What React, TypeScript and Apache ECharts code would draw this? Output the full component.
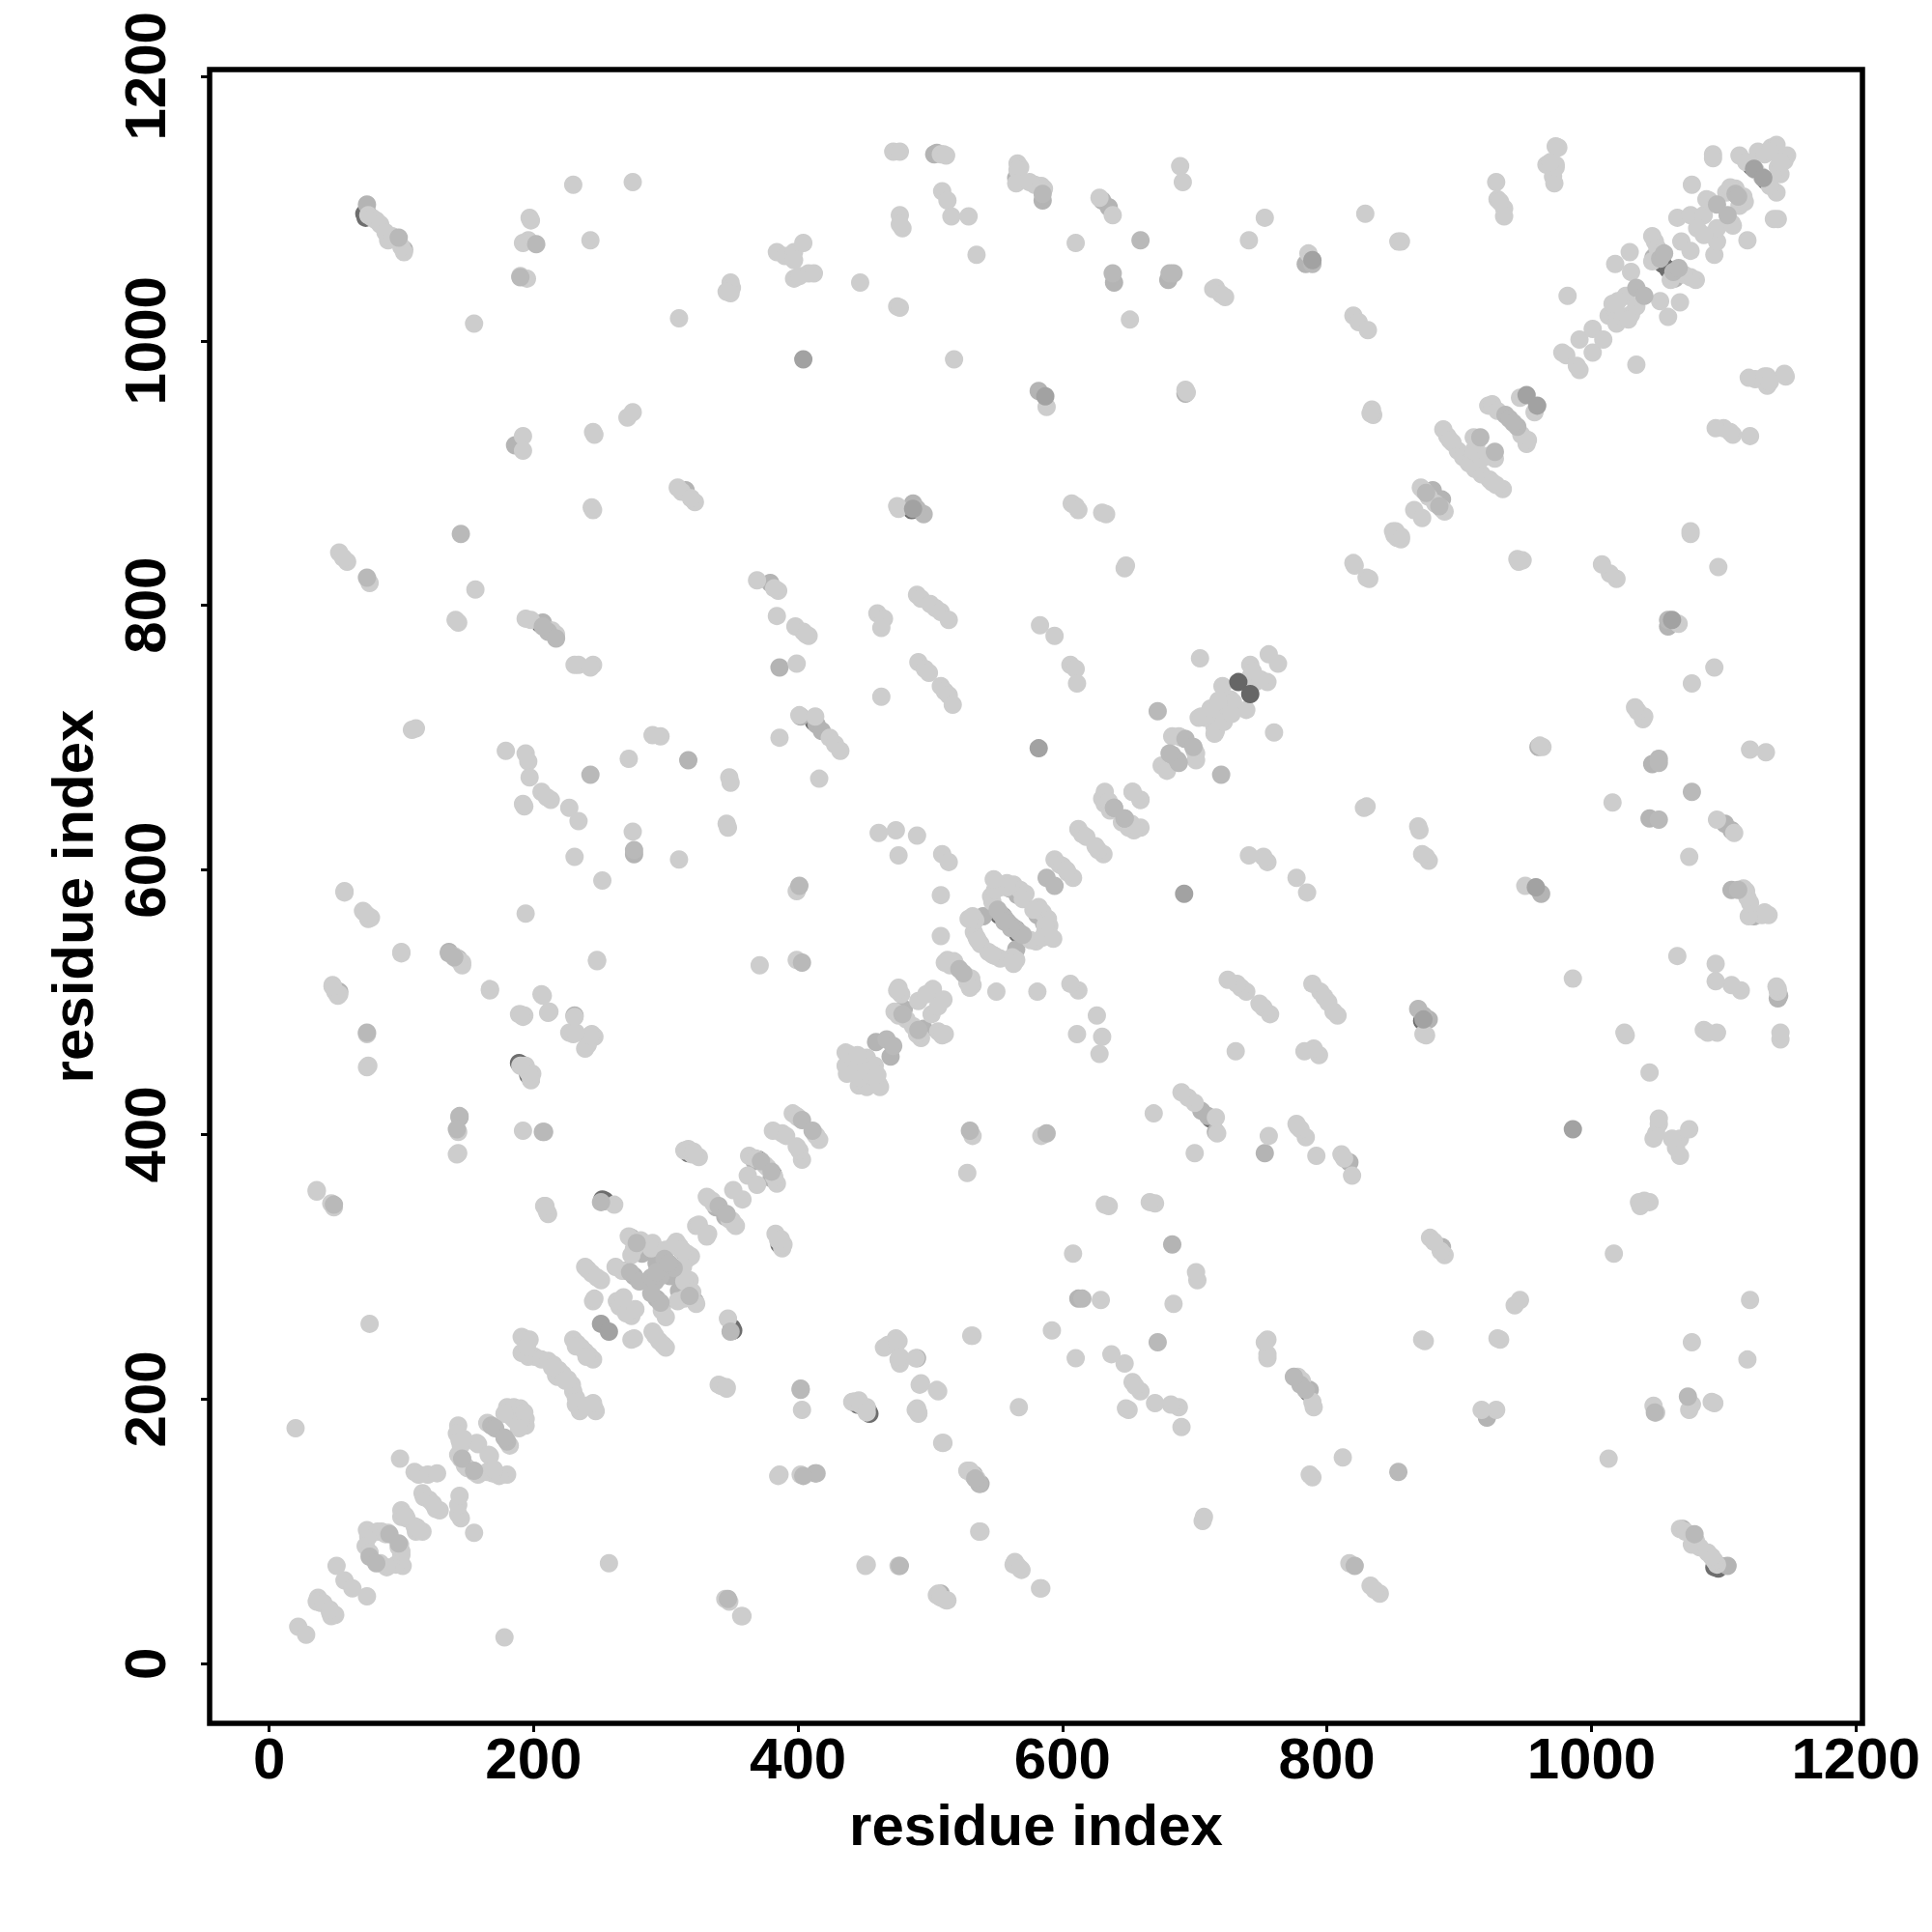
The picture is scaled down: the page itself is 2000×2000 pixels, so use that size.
import React, { useEffect, useRef } from "react";
import * as echarts from "echarts";

const tickValues = [0, 200, 400, 600, 800, 1000, 1200];
const axisTitle = "residue index";

const contactsFar = [
[75,1095],[78,1093],[81,1091],[84,1088],[88,1082],[90,1076],[93,1079],[102,1067],[100,1071],
[197,1093],[198,1091],[196,1076],[192,1074],[190,1049],[195,1047],[230,1118],[275,1120],[243,1076],[155,1013],[310,1017],
[349,1044],[350,1040],[349,1036],[346,1037],[384,1067],[390,1064],[397,1067],[397,1061],[404,1074],[397,1047],[401,1049],[408,1051],[412,1051],
[447,1044],[477,1095],[479,1085],[477,1088],[475,1026],[477,1025],[472,1143],[477,1143],[508,1141],[510,1141],[512,1140],
[509,1113],[513,1106],[516,1094],[529,1094],[535,1065],[518,986],[566,1134],[568,1131],[566,1129],[565,1119],[575,1120],[579,1118],[584,1117],[586,1115],
[610,1074],[628,1108],[638,1095],[651,1016],[689,1132],[691,1120],[714,1039],[716,1040],[720,1035],[723,1033],[741,1076],[753,1093],
[786,1066],[829,1096],[854,1075],[856,1075],[820,1019],[824,1014],[831,1008],[928,1120],[929,1107],[934,1100],[934,1094],[931,1105],
[973,1147],[966,1133],[970,1132],[973,1133],[971,1124],[982,1034],
[192,928],[192,917],[245,931],[246,929],[271,942],[275,946],[588,950],[693,963],[694,961],[834,948],[835,944],[833,945],
[244,874],[245,872],[309,889],[312,886],[322,878],[319,881],[475,875],[476,873],[607,877],[610,875],[612,872],[633,869],[630,870],[851,853],[852,856],[647,828],[648,830],
[53,840],[59,833],[56,836],[76,817],[156,812],[141,789],[143,787],[369,819],[385,811],[382,813],[384,792],[194,790],[198,789],[217,778],[214,781],
[231,755],[234,755],[245,755],[243,753],[398,784],[404,780],[408,777],[406,778],[399,756],[460,794],[465,790],[463,783],[490,808],[493,805],[500,801],[504,798],[508,795],[514,789],
[583,785],[594,777],[606,755],[610,752],[611,741],[463,731],[491,757],[496,752],[499,749],[508,739],[511,735],[514,732],[517,725],[401,717],[413,716],[424,700],[428,695],[432,690],
[386,700],[111,707],[108,706],[290,702],[296,701],[272,684],[179,690],[194,688],[196,682],[197,670],[192,650],[193,648],[206,659],[213,653],[210,655],
[348,670],[349,666],[416,669],[346,635],[347,632],[227,647],[234,637],[231,610],[275,629],[310,608],[252,592],[461,628],[474,630],[490,626],[476,611],[509,612],[514,606],
[399,584],[508,581],[57,584],[71,569],[77,564],[74,566],[194,567],[508,550],[100,538],[399,532],[371,528],[248,532],[146,530],[140,535],
[48,513],[53,506],[167,510],[206,506],[212,493],[189,491],[193,490],[227,477],[230,476],[244,476],[246,474],[241,468],[75,452],[194,452],[199,446],[198,441],
[143,402],[143,386],[192,403],[36,358],[208,346],[211,340],[261,347],
[76,257],[20,178],
[345,49],[348,47],[357,36],[451,74],[476,74],[447,196],[452,190],[465,239],[475,243],[477,232],[489,231],[492,211],[489,192],[491,190],[505,207],[509,167],
[528,146],[532,143],[537,100],[505,52],[508,50],[512,48],[563,75],[568,72],[583,57],[342,210],[346,209],[385,142],[531,248],
];

const contactsNear = [
[22,28],[37,50],[38,48],[39,46],[36,47],[41,46],[51,74],[57,63],[74,101],[75,96],[73,89],[76,84],[82,100],[85,100],[88,98],[90,99],[100,111],[101,113],[100,116],[104,110],[103,112],
[99,155],[110,145],[113,143],[120,143],[127,144],[116,129],[117,126],[121,124],[143,180],[142,174],[144,169],[145,165],[143,158],[148,150],[145,155],[157,167],[158,166],[147,170],
[165,182],[180,194],[185,194],[188,192],[182,190],[186,189],[184,186],[190,193],[178,189],
[191,247],[193,246],[197,245],[191,235],[196,232],[201,232],[206,230],[211,229],[215,226],[217,218],[219,222],[195,240],[214,224],[230,245],[233,242],[236,239],[232,240],
[239,300],[244,295],[251,290],[245,274],[246,276],[263,274],[265,270],[268,277],[267,297],[241,298],[248,292],
[272,323],[276,314],[274,309],[290,318],[289,314],[307,317],[310,316],[316,306],[319,308],[313,312],[281,320],[262,300],[300,313],
[314,388],[320,385],[325,383],[317,389],[321,387],[331,353],[335,350],[348,336],[352,332],[323,331],[325,332],[351,358],[362,369],[363,384],[368,382],[375,377],
[381,403],[388,401],[391,399],[396,416],[400,413],[399,414],[436,462],[441,458],[452,458],[437,446],[440,450],[436,452],[445,455],[438,461],[443,447],[448,452],[445,460],
[473,493],[476,490],[482,487],[476,511],[478,506],[475,509],[491,501],[502,510],[497,506],[513,532],[515,528],[518,531],[520,527],[511,530],
[532,565],[534,562],[533,553],[535,549],[538,544],[546,580],[551,590],[553,587],[558,590],[563,589],[568,585],[572,582],[570,578],[547,576],[558,587],[549,585],[536,547],[529,563],[548,593],
[594,608],[598,604],[600,603],[612,631],[615,627],[618,625],[632,659],[630,654],[632,650],[636,645],[635,652],[653,659],[659,653],[683,701],[690,700],[701,688],[675,679],
[703,715],[708,715],[715,720],[720,720],[721,739],[727,729],[716,705],[712,722],[718,728],[704,760],[742,755],[742,746],[756,763],[744,750],
[821,830],[820,832],[850,856],[866,872],[871,889],[877,882],[873,887],[888,933],[891,928],[895,923],[899,917],[903,912],[907,908],[893,925],[911,927],[911,917],[913,922],[922,951],[925,952],[929,947],[946,957],
[981,989],[978,991],[991,1001],[1001,1009],[1013,1019],[1018,1024],[1026,1034],[1020,1030],[1016,1028],[1018,1058],[1029,1067],[1030,1052],[1046,1079],[1048,1075],[1050,1070],[1046,1060],[1052,1066],[1068,1075],
[1065,1093],[1075,1095],[1085,1095],[1080,1085],[1076,1118],[1087,1107],[1089,1106],[1102,1112],[1109,1115],[1105,1116],[1092,1141],[1092,1138],[1112,1140],[1117,1135],[1129,1124],[1126,1143],[1131,1141],[1136,1146],[1140,1148],[1146,1139],[1135,1143],
[972,1119],[973,1131],[975,1146],[969,1135],
];

const contactsMidBehind = [
[74,1103],[503,1141],[505,1142],[565,1123],[585,1106],[630,1106],[635,1101],[639,1044],[680,1046],[693,960],[582,962],[784,1058],
[186,921],[487,877],[315,887],[379,817],[207,787],[402,716],[414,710],[418,705],[386,753],[317,683],[276,612],[136,538],[143,533],[231,490],[53,508],[144,413],[102,1069],
[274,322],[282,310],[298,312],[293,303],[270,297],[276,293],[290,290],[345,338],[367,380],[459,470],[480,495],[540,565],[566,581],[560,586],[880,887],[1047,1063],
];

const contactsMidFront = [
[789,1058],[98,1078],[202,1073],[190,1048],[638,1051],[681,1051],[684,1051],[659,1076],[145,854],[243,672],[276,615],[401,588],[403,530],[74,477],[208,402],[144,414],[49,347],[402,207],[404,142],
[76,81],[91,98],[146,155],[168,180],[171,178],[278,318],[299,306],[273,296],[280,289],[289,292],[296,293],[303,302],[340,346],[372,380],[403,411],[467,472],[479,491],[522,525],[588,594],[639,647],[647,639],[683,687],[688,681],[672,720],[875,885],[916,927],[935,944],[938,941],[1034,1040],[1052,1062],[1095,1103],[537,136],[780,211],[784,207],[775,217],[534,140],[251,349],[585,1111],[1109,1111],[495,869],[490,873],[74,821],[693,699],[1055,1066],
[553,567],[556,564],[559,560],[551,570],[561,556],
];

const contactsDark = [
[404,986],[789,1061],[251,257],[951,959],[1123,1130],[487,873],[587,958],[582,692],
];

const contactsDarkest = [
[733,742],
];

const contactsUnder = [
[72,1096],[74,1097],[486,872],[552,566],[555,565],[558,561],[550,569],[189,454],[191,453],[252,351],[254,350],[311,314],[370,381],[1054,1058],[445,196],[442,198],[73,1093],[208,784],[205,786],[412,712],[317,386],[1121,1132],
];

const mirrored = (pairs: number[][]) => pairs.flatMap(([a, b]) => [[a, b], [b, a]]);

const FONT = "Liberation Sans";

export default function App() {
  const ref = useRef<HTMLDivElement>(null);
  useEffect(() => {
    const chart = echarts.init(ref.current!, undefined, { renderer: "svg" });
    const axisCommon = {
      type: "value" as const,
      min: -45,
      max: 1205,
      name: axisTitle,
      nameLocation: "middle" as const,
      nameTextStyle: { fontFamily: FONT, fontWeight: "bold" as const, fontSize: 60, color: "#000" },
      axisLine: { show: false, onZero: false },
      axisTick: { show: true, length: 9, lineStyle: { color: "#000", width: 3 }, customValues: tickValues },
      splitLine: { show: false },
    };
    const labelStyle = { fontFamily: FONT, fontWeight: "bold" as const, fontSize: 60, color: "#000", customValues: tickValues, formatter: (v: number) => String(v) };
    const series = (name: string, pairs: number[][], color: string) => ({
      name,
      type: "scatter" as const,
      data: mirrored(pairs),
      symbol: "circle",
      symbolSize: 19,
      itemStyle: { color, opacity: 1 },
      progressive: 0,
      silent: true,
    });
    chart.setOption({
      animation: false,
      backgroundColor: "#fff",
      grid: { left: 217, right: 72, top: 72, bottom: 216, show: true, borderColor: "#000", borderWidth: 5.5, backgroundColor: "transparent" },
      xAxis: { ...axisCommon, nameGap: 75, axisLabel: { ...labelStyle, margin: 6 } },
      yAxis: { ...axisCommon, nameGap: 112, axisLabel: { ...labelStyle, rotate: 90, margin: 37, align: "center", verticalAlign: "bottom" } },
      series: [
        series("under", contactsUnder, "#6e6e6e"),
        series("midBehind", contactsMidBehind, "#b4b4b4"),
        series("far", contactsFar, "#cdcdcd"),
        series("near", contactsNear, "#cdcdcd"),
        series("midFront", contactsMidFront, "#b9b9b9"),
        series("dark", contactsDark, "#a2a2a2"),
        series("darkest", contactsDarkest, "#666666"),
      ],
    });
    return () => chart.dispose();
  }, []);
  return <div ref={ref} style={{ position: "absolute", left: 0, top: 0, width: 2000, height: 2000 }} />;
}
